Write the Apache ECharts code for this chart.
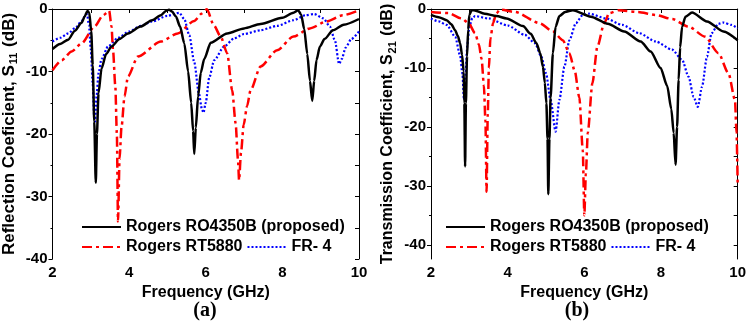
<!DOCTYPE html>
<html>
<head>
<meta charset="utf-8">
<script src="https://cdn.jsdelivr.net/npm/echarts@6/dist/echarts.min.js"></script>
<style>
html,body{margin:0;padding:0;background:#fff;}
#c{width:749px;height:327px;}
</style>
</head>
<body>
<div id="c"></div>
<script>
// ---------- DATA ----------
const seriesNames = ['Rogers RO4350B (proposed)', 'Rogers RT5880', 'FR- 4'];
const xTicks = [2, 4, 6, 8, 10];
const yTicksA = [0, -10, -20, -30, -40];
const yTicksB = [0, -10, -20, -30, -40];

// (a) S11 - Rogers RO4350B
const fS11Ro = [2.0,2.2,2.41,2.58,2.76,2.84,2.91,2.96,3.01,3.05,3.09,3.13,3.16,3.20,3.28,3.40,3.54,3.75,3.97,4.3,4.6,4.83,4.96,5.04,5.12,5.22,5.33,5.44,5.54,5.62,5.67,5.70,5.74,5.80,5.87,5.96,6.13,6.56,7.0,7.43,8.0,8.29,8.41,8.49,8.57,8.65,8.72,8.78,8.83,8.89,8.98,9.1,9.32,9.6,10.0];
const s11Ro  = [-6.4,-5.6,-4.9,-3.5,-2.2,-1.2,-0.3,-0.6,-3.5,-9,-18,-27.8,-20,-13.5,-9.5,-7.2,-6.0,-4.8,-3.9,-2.8,-1.8,-1.0,-0.3,-0.1,-0.4,-1.2,-2.8,-5.5,-10,-15,-19.5,-23.2,-19,-14,-10.2,-8.0,-5.4,-3.9,-3.1,-2.4,-1.4,-0.6,-0.2,-0.9,-3.2,-7.2,-11.5,-14.7,-11.5,-8.2,-6.0,-4.8,-3.4,-2.5,-1.6];

// (a) S11 - Rogers RT5880
const fS11Rt = [2.0,2.24,2.5,2.76,3.1,3.32,3.48,3.54,3.58,3.64,3.68,3.71,3.75,3.80,3.88,3.97,4.23,4.83,5.27,5.7,5.9,6.03,6.21,6.39,6.56,6.69,6.78,6.84,6.87,6.92,6.99,7.08,7.17,7.43,7.86,8.29,8.72,9.15,9.58,10.0];
const s11Rt  = [-9.8,-8.2,-6.8,-5.5,-2.8,-1.0,-0.3,-2.8,-6.6,-12.4,-20,-34,-24,-19,-14,-10.8,-7.6,-5.2,-3.9,-1.9,-0.7,-0.05,-2.6,-4.4,-7.1,-13,-18.3,-24,-27.4,-23,-18.5,-15.5,-13.0,-9.2,-6.6,-4.4,-3.1,-2.0,-1.0,-0.2];

// (a) S11 - FR-4
const fS11Fr = [2.0,2.2,2.41,2.6,2.75,2.85,2.9,2.95,3.0,3.05,3.09,3.11,3.15,3.2,3.28,3.45,3.71,4.0,4.3,4.6,5.0,5.31,5.44,5.57,5.70,5.82,5.9,5.94,6.0,6.09,6.22,6.48,6.74,7.0,7.43,7.86,8.29,8.6,8.83,9.07,9.24,9.37,9.48,9.55,9.65,9.8,10.0];
const s11Fr  = [-5.2,-4.6,-3.9,-3.0,-2.0,-1.2,-0.8,-2.5,-6.5,-12,-17.5,-18,-14,-10.3,-8.0,-6.0,-4.6,-3.6,-2.7,-2.0,-1.1,-0.6,-1.6,-4.2,-8.5,-13.5,-16,-16.6,-15,-11,-8.2,-6.0,-4.7,-4.0,-3.4,-2.7,-1.8,-1.0,-0.8,-1.5,-2.8,-5.0,-8.8,-8.0,-6.2,-4.8,-3.6];

// (b) S21 - Rogers RO4350B
const fS21Ro = [2.0,2.2,2.41,2.53,2.63,2.7,2.76,2.81,2.85,2.87,2.89,2.91,2.94,2.97,3.0,3.06,3.12,3.4,3.71,3.97,4.4,4.6,4.75,4.85,4.92,4.97,5.01,5.04,5.06,5.09,5.12,5.18,5.25,5.35,5.5,5.7,6.17,6.61,7.04,7.47,7.73,7.99,8.16,8.27,8.33,8.38,8.42,8.46,8.5,8.55,8.64,8.81,9.2,9.63,10.0];
const s21Ro  = [-1.0,-1.4,-1.9,-2.6,-3.6,-4.6,-5.8,-7.8,-10.5,-16,-26.7,-16,-8,-3.5,-1.0,-0.2,-0.2,-0.8,-1.2,-1.6,-2.9,-4.2,-5.8,-7.5,-9.8,-12.5,-16,-22,-31.4,-22,-15,-7.5,-3.0,-1.2,-0.5,-0.2,-1.3,-2.5,-3.8,-5.5,-7.2,-10,-13,-17,-21,-26.4,-20,-12,-6.5,-3.0,-1.3,-0.6,-2.1,-3.8,-5.3];

// (b) S21 - Rogers RT5880
const fS21Rt = [2.0,2.46,2.8,2.98,3.15,3.25,3.32,3.38,3.42,3.45,3.48,3.51,3.55,3.62,3.7,3.8,4.19,4.83,5.18,5.44,5.61,5.75,5.87,5.96,6.0,6.04,6.09,6.21,6.34,6.52,6.65,6.9,7.4,7.86,8.29,8.72,9.15,9.5,9.76,9.93,9.97,10.0];
const s21Rt  = [-0.5,-0.7,-1.6,-2.4,-4.1,-6,-8.5,-13,-19,-31,-18,-10,-5,-2.4,-0.8,-0.1,-0.5,-2.4,-3.8,-5.3,-7.5,-10.5,-15,-24,-35,-28,-21,-12.6,-6.4,-2.4,-0.7,-0.2,-0.5,-1.0,-1.7,-3.0,-4.7,-7.5,-10.9,-15.4,-21,-29.5];

// (b) S21 - FR-4
const fS21Fr = [2.0,2.2,2.41,2.63,2.76,2.82,2.86,2.9,2.95,3.0,3.08,3.15,3.5,4.0,4.45,4.71,4.88,5.0,5.12,5.25,5.35,5.48,5.61,5.78,5.96,6.13,6.56,6.99,7.43,7.86,8.29,8.55,8.72,8.85,8.96,9.07,9.2,9.32,9.5,9.63,9.84,10.0];
const s21Fr  = [-1.6,-2.1,-2.7,-4.7,-7.9,-11,-15.4,-11,-6,-3,-1.5,-1.2,-1.6,-2.8,-4.4,-5.8,-8.1,-10.9,-15.4,-20.8,-15.4,-9.8,-5.3,-2.4,-1.0,-0.8,-1.6,-2.7,-4.1,-5.5,-6.9,-8.6,-11.5,-14.9,-16.6,-13.2,-8.1,-4.1,-2.5,-2.3,-2.7,-3.3];

// ---------- CHART ----------
const zip = (xs, ys) => xs.map((x, i) => [x, ys[i]]);
const FONT = '"Liberation Sans", Arial, sans-serif';
const grids = [
  {left: 51, top: 9, width: 308, height: 250},
  {left: 431, top: 9, width: 308, height: 250}
];
const styles = [
  {color: '#000000', width: 2.5, type: 'solid'},
  {color: '#ff0000', width: 2.5, type: [10, 4, 3, 4]},
  {color: '#0000ff', width: 2.2, type: [2, 2]}
];

function mkSeries(name, data, si, gi) {
  return {
    type: 'line', name: name, data: data,
    xAxisIndex: gi * 2, yAxisIndex: gi === 0 ? 0 : 2,
    symbol: 'none', smooth: 0.25, smoothMonotone: 'x',
    lineStyle: {color: styles[si].color, width: styles[si].width, type: styles[si].type},
    itemStyle: {color: styles[si].color},
    z: 3 - si, animation: false
  };
}

const axLine = {show: true, lineStyle: {color: '#000', width: 1}};
const tickLbl = {fontFamily: FONT, fontWeight: 'bold', fontSize: 15, color: '#000'};

function xAxes(gi) {
  return [
    {type: 'value', gridIndex: gi, position: 'bottom', min: 2, max: 10, interval: 2,
     axisLine: axLine, splitLine: {show: false},
     axisTick: {show: true, inside: false, length: 4, lineStyle: {color: '#000'}},
     minorTick: {show: true, splitNumber: 2, length: 2, lineStyle: {color: '#000'}},
     axisLabel: Object.assign({margin: 6, customValues: xTicks}, tickLbl),
     name: 'Frequency (GHz)', nameLocation: 'middle', nameGap: 21,
     nameTextStyle: {fontFamily: FONT, fontWeight: 'bold', fontSize: 16, color: '#000'}},
    {type: 'value', gridIndex: gi, position: 'top', min: 2, max: 10, interval: 1,
     axisLine: axLine, splitLine: {show: false},
     axisTick: {show: true, inside: true, length: 4, lineStyle: {color: '#000'}},
     axisLabel: {show: false}}
  ];
}

const option = {
  backgroundColor: '#fff',
  animation: false,
  grid: grids,
  xAxis: xAxes(0).concat(xAxes(1)),
  yAxis: [
    {type: 'value', gridIndex: 0, position: 'left', min: -40, max: 0, interval: 10,
     axisLine: axLine, splitLine: {show: false},
     axisTick: {show: true, inside: false, length: 4, lineStyle: {color: '#000'}},
     minorTick: {show: true, splitNumber: 2, length: 2, lineStyle: {color: '#000'}},
     axisLabel: Object.assign({margin: 5, customValues: yTicksA}, tickLbl),
     name: 'Reflection Coeficient, S{sub|11} (dB)', nameLocation: 'middle', nameGap: 33,
     nameTextStyle: {fontFamily: FONT, fontWeight: 'bold', fontSize: 17, color: '#000',
       rich: {sub: {fontFamily: FONT, fontWeight: 'bold', fontSize: 11, color: '#000', padding: [0, 1, 0, 1], verticalAlign: 'bottom', lineHeight: 20}}}},
    {type: 'value', gridIndex: 0, position: 'right', min: -40, max: 0, interval: 5,
     axisLine: axLine, splitLine: {show: false},
     axisTick: {show: true, inside: true, length: 4, lineStyle: {color: '#000'}},
     axisLabel: {show: false}},
    {type: 'value', gridIndex: 1, position: 'left', min: -42.4, max: 0,
     axisLine: axLine, splitLine: {show: false},
     axisTick: {show: true, inside: false, length: 4, customValues: yTicksB, lineStyle: {color: '#000'}},
     axisLabel: Object.assign({margin: 5, customValues: yTicksB}, tickLbl),
     name: 'Transmission Coefficient, S{sub|21} (dB)', nameLocation: 'middle', nameGap: 33,
     nameTextStyle: {fontFamily: FONT, fontWeight: 'bold', fontSize: 16, color: '#000',
       rich: {sub: {fontFamily: FONT, fontWeight: 'bold', fontSize: 11, color: '#000', padding: [0, 1, 0, 1], verticalAlign: 'bottom', lineHeight: 20}}}},
    {type: 'value', gridIndex: 1, position: 'right', min: -42.4, max: 0,
     axisLine: axLine, splitLine: {show: false},
     axisTick: {show: true, inside: true, length: 4, customValues: [0,-5,-10,-15,-20,-25,-30,-35,-40], lineStyle: {color: '#000'}},
     axisLabel: {show: false}},
    {type: 'value', gridIndex: 1, position: 'left', min: -42.4, max: 0,
     axisLine: {show: false}, splitLine: {show: false},
     axisTick: {show: true, inside: false, length: 2, customValues: [-5,-15,-25,-35], lineStyle: {color: '#000'}},
     axisLabel: {show: false}}
  ],
  legend: [
    {data: [seriesNames[0]], left: 81, top: 219},
    {data: [seriesNames[1], seriesNames[2]], left: 81, top: 239},
    {data: [seriesNames[0]], left: 445, top: 219},
    {data: [seriesNames[1], seriesNames[2]], left: 445, top: 239}
  ].map(l => Object.assign({
    orient: 'horizontal', padding: 0, itemGap: 4, itemWidth: 39, itemHeight: 14,
    selectedMode: false,
    itemStyle: {opacity: 0, borderWidth: 0},
    textStyle: {fontFamily: FONT, fontWeight: 'bold', fontSize: 16, color: '#000', padding: [0, 0, 0, 0]}
  }, l)),
  graphic: [
    {type: 'text', style: {text: '(a)', x: 205, y: 311, align: 'center', verticalAlign: 'middle',
      font: 'bold 20px "Liberation Serif", "Times New Roman", serif', fill: '#000'}},
    {type: 'text', style: {text: '(b)', x: 577, y: 311, align: 'center', verticalAlign: 'middle',
      font: 'bold 20px "Liberation Serif", "Times New Roman", serif', fill: '#000'}}
  ],
  series: [
    mkSeries(seriesNames[0], zip(fS11Ro, s11Ro), 0, 0),
    mkSeries(seriesNames[1], zip(fS11Rt, s11Rt), 1, 0),
    mkSeries(seriesNames[2], zip(fS11Fr, s11Fr), 2, 0),
    mkSeries(seriesNames[0], zip(fS21Ro, s21Ro), 0, 1),
    mkSeries(seriesNames[1], zip(fS21Rt, s21Rt), 1, 1),
    mkSeries(seriesNames[2], zip(fS21Fr, s21Fr), 2, 1)
  ]
};

const chart = echarts.init(document.getElementById('c'), null, {renderer: 'canvas'});
chart.setOption(option);
</script>
</body>
</html>
